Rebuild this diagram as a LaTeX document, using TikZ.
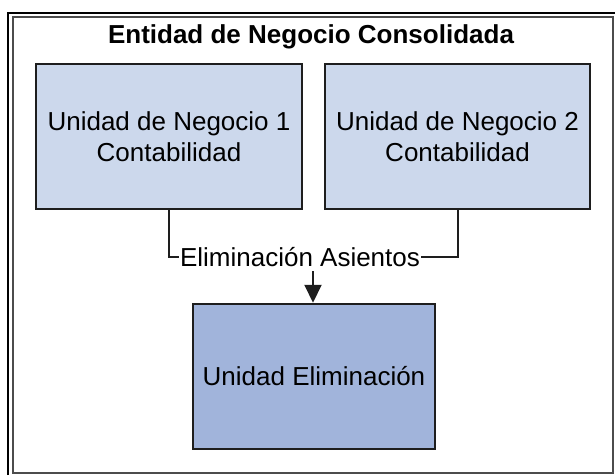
\documentclass[tikz,border=0pt]{standalone}
\usepackage{fontspec}
\setmainfont{Liberation Sans}
\usepackage{xcolor}
\usetikzlibrary{shadows}
\usetikzlibrary{arrows.meta}
\usetikzlibrary{positioning}

\definecolor{unitfill}{HTML}{CCD8EC}
\definecolor{elimfill}{HTML}{A1B4DB}
\definecolor{edge}{HTML}{1E1E1E}

\tikzset{
  unitbox/.style={draw=edge, line width=2.5pt, rectangle, align=center,
    minimum height=145pt, inner sep=0pt,
    drop shadow={shadow xshift=1pt, shadow yshift=-1pt, opacity=.35},
    font=\fontsize{26}{31}\selectfont},
  link/.style={draw=edge, line width=2pt}
}

\begin{document}
\begin{tikzpicture}[x=1pt,y=-1pt]
\useasboundingbox (0,0) rectangle (615,475);

% Frame
\draw[line width=2.5pt] (8,475) -- (8,13) -- (615,13);
\draw[line width=2pt, draw=black!70] (13,17) rectangle (613,473);

% Title (node)
\node[font=\fontsize{26}{31}\selectfont\bfseries] (title) at (311,37) {Entidad de Negocio Consolidada};

% Business units (nodes)
\node[unitbox, fill=unitfill, minimum width=266pt] (bu1) at (169,136.5) {Unidad de Negocio 1\\Contabilidad};
\node[unitbox, fill=unitfill, minimum width=265pt] (bu2) at (457.5,136.5) {Unidad de Negocio 2\\Contabilidad};

% Elimination unit (node)
\node[unitbox, fill=elimfill, minimum width=242pt] (elimu) at (314,376.5) {Unidad Eliminación};

% Label between units
\node[font=\fontsize{26}{31}\selectfont, inner sep=1pt] (elim) at (300,257) {Eliminación Asientos};
\coordinate (arr) at (313,271);

% Lines from units to label, arrow down
\draw[link] (bu1.south) |- (elim.west);
\draw[link] (bu2.south) |- (elim.east);
\draw[link, -{Triangle[length=18pt,width=17pt]}] (arr) -- (arr |- elimu.north);
\end{tikzpicture}
\end{document}
